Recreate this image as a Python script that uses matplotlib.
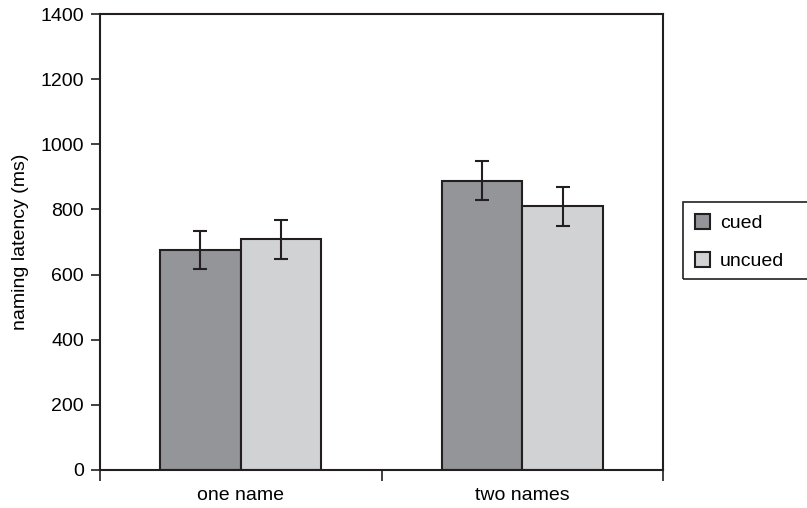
import matplotlib
matplotlib.use("Agg")
import matplotlib.pyplot as plt
from matplotlib.patches import Rectangle
import numpy as np

categories = ["one name", "two names"]
series_names = ["cued", "uncued"]
cued = [676, 888]
uncued = [709, 810]
cued_err = [59, 60]
uncued_err = [60, 60]

plt.rcParams['font.family'] = ['Liberation Sans', 'DejaVu Sans']
plt.rcParams['font.size'] = 14

W, H = 807, 508
fig = plt.figure(figsize=(W/100, H/100), dpi=100)
ax = fig.add_axes([100/W, 1-470/H, 563/W, 456/H])

x = np.arange(len(categories))
w = 0.286
edge = '#231f20'
ekw = dict(ecolor=edge, elinewidth=1.5, capsize=5, capthick=1.5)
ax.bar(x - w/2, cued, w, yerr=cued_err, color='#939598', edgecolor=edge,
       linewidth=1.5, label=series_names[0], error_kw=ekw)
ax.bar(x + w/2, uncued, w, yerr=uncued_err, color='#d1d2d4', edgecolor=edge,
       linewidth=1.5, label=series_names[1], error_kw=ekw)

ax.set_xlim(-0.5, 1.5)
ax.set_ylim(0, 1400)
ax.set_yticks(np.arange(0, 1401, 200))
ax.set_xticks([-0.5, 0.5, 1.5])
ax.set_xticklabels([])
ax.set_xticks(x, minor=True)
ax.set_xticklabels(categories, minor=True)
ax.tick_params(axis='x', which='minor', length=0, pad=12)
ax.tick_params(axis='x', which='major', length=8, width=1.2, direction='out',
               color=edge)
ax.tick_params(axis='y', length=6.5, width=1.2, color=edge, pad=5)
for s in ax.spines.values():
    s.set_color(edge)
    s.set_linewidth(1.5)
ax.set_ylabel('naming latency (ms)', labelpad=8)

leg = ax.legend(loc='center left', bbox_to_anchor=((683 - 100)/563, 0.5),
                frameon=False,
                handlelength=0.8, handleheight=0.8, handletextpad=0.5,
                labelspacing=1.0, borderpad=0.6, borderaxespad=0)
# legend frame (extends past the right edge as in the reference)
fig.patches.append(Rectangle((683/W, 1-279/H), 140/W, 77/H,
                             transform=fig.transFigure, fill=False,
                             edgecolor=edge, linewidth=1.2, clip_on=False))

fig.savefig('out.png', dpi=100)
